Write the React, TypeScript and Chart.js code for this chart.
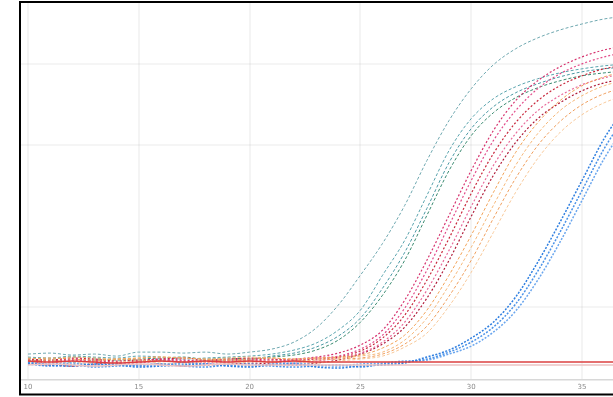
import React, { useEffect, useRef } from "react";
import { Chart, registerables } from "chart.js";

Chart.register(...registerables);

const cycles = [10, 11, 12, 13, 14, 15, 16, 17, 18, 19, 20, 21, 22, 23, 24, 25, 26, 27, 28, 29, 30, 31, 32, 33, 34, 35, 36, 37];
const xTickLabels = [10, 15, 20, 25, 30, 35];
const yGridValues = [1000, 3000, 4000];

const teal1 = [420, 432, 408, 420, 395, 444, 444, 432, 444, 420, 444, 481, 567, 740, 1023, 1392, 1785, 2253, 2806, 3300, 3692, 3987, 4184, 4319, 4417, 4491, 4553, 4589];
const teal2 = [383, 371, 395, 383, 371, 395, 383, 358, 371, 383, 395, 420, 469, 555, 715, 961, 1392, 1822, 2376, 2929, 3323, 3569, 3716, 3815, 3888, 3938, 3975, 3999];
const teal3 = [346, 334, 321, 346, 358, 334, 346, 321, 334, 346, 358, 395, 432, 506, 641, 863, 1232, 1674, 2216, 2781, 3200, 3470, 3642, 3753, 3839, 3901, 3938, 3962];
const green4 = [371, 358, 383, 371, 346, 358, 371, 383, 358, 371, 358, 383, 408, 469, 592, 813, 1146, 1576, 2130, 2683, 3114, 3396, 3581, 3704, 3790, 3852, 3888, 3913];

const pink1 = [346, 334, 358, 346, 321, 334, 358, 346, 334, 346, 358, 346, 358, 383, 432, 531, 715, 1084, 1576, 2130, 2683, 3175, 3544, 3790, 3962, 4085, 4171, 4221];
const pink2 = [334, 321, 346, 334, 309, 321, 346, 334, 321, 334, 346, 334, 346, 371, 395, 481, 654, 986, 1453, 2007, 2560, 3052, 3421, 3692, 3876, 3999, 4085, 4147];
const pink3 = [358, 346, 371, 358, 334, 346, 358, 371, 346, 358, 371, 358, 346, 358, 383, 457, 617, 900, 1330, 1847, 2400, 2892, 3273, 3544, 3729, 3852, 3938, 3987];
const pink4 = [321, 309, 334, 321, 297, 309, 334, 321, 309, 321, 334, 321, 309, 334, 371, 432, 567, 813, 1207, 1699, 2240, 2745, 3138, 3421, 3606, 3741, 3827, 3888];
const red5 = [297, 285, 272, 297, 309, 285, 297, 272, 285, 297, 309, 297, 285, 309, 346, 420, 543, 752, 1109, 1576, 2117, 2622, 3027, 3323, 3519, 3667, 3765, 3815];

const orange1 = [358, 371, 358, 346, 358, 371, 383, 371, 358, 346, 358, 371, 358, 371, 383, 408, 494, 654, 961, 1392, 1884, 2412, 2904, 3273, 3544, 3729, 3839, 3913];
const orange2 = [371, 358, 383, 371, 358, 371, 383, 371, 358, 371, 383, 371, 358, 371, 371, 395, 444, 592, 863, 1269, 1736, 2253, 2745, 3138, 3421, 3606, 3729, 3802];
const orange3 = [334, 346, 321, 334, 358, 346, 334, 321, 334, 346, 334, 321, 334, 346, 358, 371, 420, 543, 764, 1133, 1576, 2093, 2585, 2991, 3286, 3495, 3630, 3716];
const orange4 = [309, 321, 297, 309, 321, 334, 309, 297, 321, 309, 321, 334, 321, 309, 334, 358, 395, 506, 678, 1010, 1428, 1920, 2412, 2831, 3150, 3372, 3519, 3618];

const blue1 = [309, 285, 272, 297, 285, 260, 272, 285, 297, 272, 260, 285, 297, 260, 248, 272, 285, 309, 383, 469, 617, 813, 1121, 1551, 2043, 2560, 3077, 3482];
const blue2 = [297, 272, 285, 260, 272, 285, 297, 272, 260, 285, 297, 272, 260, 272, 285, 260, 297, 321, 358, 444, 567, 752, 1035, 1441, 1920, 2437, 2954, 3372];
const blue3 = [321, 297, 309, 285, 297, 272, 285, 309, 297, 285, 272, 297, 309, 285, 272, 297, 309, 334, 346, 420, 518, 690, 949, 1330, 1797, 2314, 2831, 3249];

const ntcRed = [334, 321, 334, 321, 309, 321, 334, 321, 334, 321, 334, 321, 334, 321, 321, 321, 321, 321, 321, 321, 321, 321, 321, 321, 321, 321, 321, 321];
const ntcGray = [285, 297, 285, 272, 285, 297, 285, 272, 285, 297, 285, 285, 285, 285, 285, 285, 285, 285, 285, 285, 285, 285, 285, 285, 285, 285, 285, 285];

const seriesList = [
  { name: "NTC 1", values: ntcGray, color: "#ecc4c4", dash: [] as number[], width: 1.5 },
  { name: "NTC 2", values: ntcRed, color: "#dc4040", dash: [] as number[], width: 1.5 },
  { name: "Blue 1", values: blue1, color: "#2f7fe0", dash: [2, 1.5], width: 1.5 },
  { name: "Blue 2", values: blue2, color: "#4a92e8", dash: [2, 1.5], width: 1.5 },
  { name: "Blue 3", values: blue3, color: "#6aa6ee", dash: [2, 1.5], width: 1.5 },
  { name: "Orange 1", values: orange1, color: "#f2a45a", dash: [3, 2], width: 1 },
  { name: "Orange 2", values: orange2, color: "#f6b87a", dash: [3, 2], width: 1 },
  { name: "Orange 3", values: orange3, color: "#f0a060", dash: [3, 2], width: 1 },
  { name: "Orange 4", values: orange4, color: "#f8c898", dash: [3, 2], width: 1 },
  { name: "Pink 1", values: pink1, color: "#d6336e", dash: [2, 2], width: 1.2 },
  { name: "Pink 2", values: pink2, color: "#e24c8a", dash: [2, 2], width: 1.2 },
  { name: "Pink 3", values: pink3, color: "#c8283c", dash: [2, 2], width: 1.2 },
  { name: "Pink 4", values: pink4, color: "#e86a9a", dash: [2, 2], width: 1.2 },
  { name: "Red 5", values: red5, color: "#b01c3a", dash: [2, 2], width: 1.2 },
  { name: "Teal 1", values: teal1, color: "#6fa8b0", dash: [3, 2], width: 1 },
  { name: "Teal 2", values: teal2, color: "#5aa4ae", dash: [3, 2], width: 1 },
  { name: "Teal 3", values: teal3, color: "#4a98a4", dash: [3, 2], width: 1 },
  { name: "Green 4", values: green4, color: "#3a8a70", dash: [3, 2], width: 1 },
];

const framePlugin = {
  id: "frame",
  afterDraw(chart: any) {
    const ctx = chart.ctx;
    ctx.save();
    ctx.strokeStyle = "#000";
    ctx.lineWidth = 2;
    ctx.beginPath();
    ctx.moveTo(613, 2);
    ctx.lineTo(20, 2);
    ctx.lineTo(20, 394.5);
    ctx.lineTo(613, 394.5);
    ctx.stroke();
    ctx.restore();
  },
};

export default function App() {
  const ref = useRef<HTMLCanvasElement>(null);
  useEffect(() => {
    document.body.style.margin = "0";
    const chart = new Chart(ref.current!, {
      type: "line",
      data: {
        datasets: seriesList.map((s) => ({
          label: s.name,
          data: s.values.map((v, i) => ({ x: cycles[i], y: v })),
          borderColor: s.color,
          backgroundColor: s.color,
          borderWidth: s.width,
          borderDash: s.dash,
          pointRadius: 0,
          cubicInterpolationMode: "monotone" as const,
          fill: false,
        })),
      },
      options: {
        animation: false,
        responsive: false,
        maintainAspectRatio: false,
        layout: { padding: { left: 21, top: 3, right: 0, bottom: 3 } },
        plugins: { legend: { display: false }, tooltip: { enabled: false } },
        scales: {
          x: {
            type: "linear",
            min: 9.684,
            max: 36.4,
            afterBuildTicks: (scale: any) => {
              scale.ticks = xTickLabels.map((v) => ({ value: v }));
            },
            afterFit: (scale: any) => {
              scale.height = 14;
            },
            grid: { color: "rgba(0,0,0,0.045)", lineWidth: 2, drawTicks: false },
            border: { color: "#d8d8d8", width: 1.5 },
            ticks: {
              color: "#8a8a8a",
              font: { size: 7, family: "DejaVu Sans" },
              padding: 3,
              maxRotation: 0,
              callback: (v: any) => String(v),
            },
          },
          y: {
            type: "linear",
            min: 100,
            max: 4750,
            afterBuildTicks: (scale: any) => {
              scale.ticks = yGridValues.map((v) => ({ value: v }));
            },
            afterFit: (scale: any) => {
              scale.width = 0;
            },
            grid: { color: "rgba(0,0,0,0.04)", lineWidth: 2, drawTicks: false },
            border: { display: false },
            ticks: { display: false },
          },
        },
      },
      plugins: [framePlugin],
    });
    return () => chart.destroy();
  }, []);
  return (
    <div style={{ width: 613, height: 397, background: "#fff" }}>
      <canvas ref={ref} width={613} height={397} style={{ display: "block" }} />
    </div>
  );
}
